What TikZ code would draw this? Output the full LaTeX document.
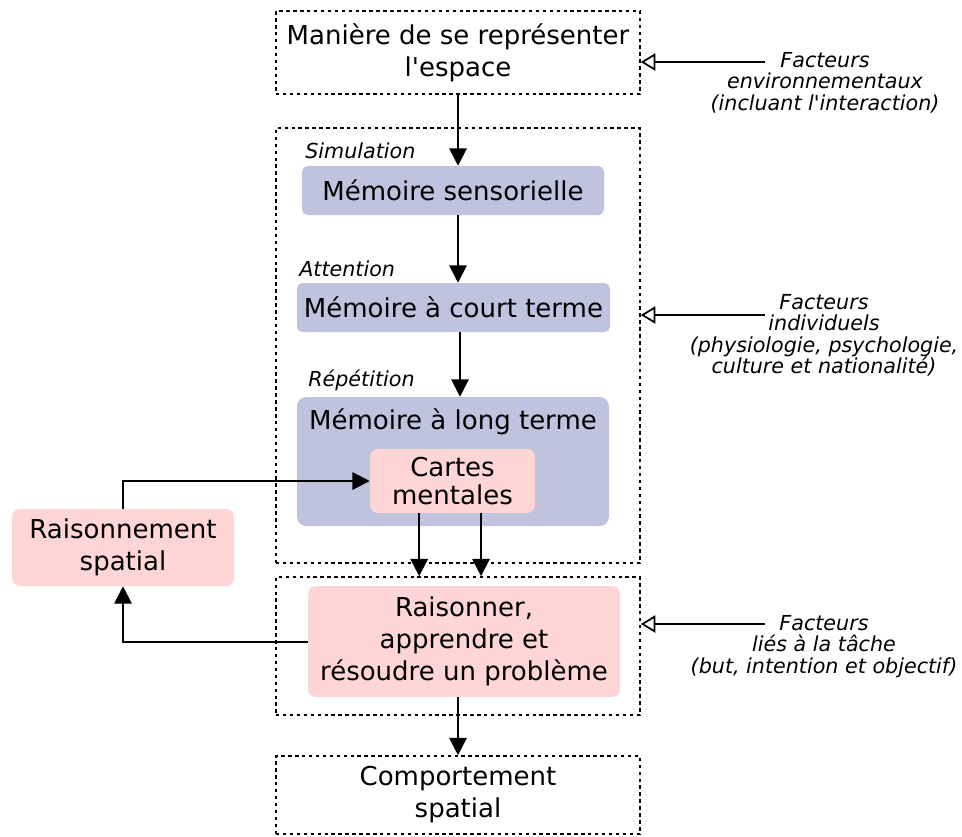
\documentclass[tikz,border=0pt]{standalone}
\usepackage{fontspec}
\setmainfont{DejaVu Sans}
\usepackage{xcolor}
\usepackage{tikz}
\usetikzlibrary{arrows.meta,positioning}

\definecolor{memblue}{RGB}{192,195,222}
\definecolor{rosebox}{RGB}{255,213,213}

\begin{document}
\begin{tikzpicture}[
  x=0.75pt, y=-0.75pt,
  every node/.style={font=\fontsize{19.5}{24}\selectfont, align=center, inner sep=0pt},
  small/.style={font=\fontsize{15.5}{16}\selectfont\itshape},
  zone/.style={draw, line width=1.2pt, dash pattern=on 2.6pt off 2.6pt, minimum width=273pt},
  mem/.style={fill=memblue, rounded corners=4pt},
  pinkbox/.style={fill=rosebox, rounded corners=6pt},
  arr/.style={-{Triangle[length=13pt,width=13pt]}, line width=1.5pt},
  infl/.style={-{Triangle[open,length=11pt,width=13pt]}, line width=1.3pt},
]
  \useasboundingbox (0,0) rectangle (962,836);

  % ---------- dashed zones ----------
  \node[zone, minimum height=62.25pt]  (espace) at (458, 52.5)
    {Manière de se représenter\\l\textquotesingle espace};
  \node[zone, minimum height=326.25pt] (memoire) at (458, 345.5) {};
  \node[zone, minimum height=103.5pt]  (tache)   at (458, 646) {};
  \node[zone, minimum height=58.5pt]   (comport) at (458, 795)
    {Comportement\\spatial};

  % ---------- memory stages ----------
  \node[mem, minimum width=226.5pt, minimum height=36.75pt] (sens)  at (453, 190.5) {Mémoire sensorielle};
  \node[mem, minimum width=234.75pt, minimum height=36.75pt] (court) at (453.5, 307.5) {Mémoire à court terme};
  \node[mem, rounded corners=7pt, minimum width=234pt, minimum height=96.75pt] (long) at (453, 461.5) {};
  \node[below=9pt of long.north] (longlbl) {Mémoire à long terme};
  \node[pinkbox, minimum width=123.75pt, minimum height=48pt] (cartes) at (452.5, 481) {Cartes\\[-3pt]mentales};

  \node[small, anchor=west] (simul)  at (305, 151) {Simulation};
  \node[small, anchor=west] (attent) at (299, 269) {Attention};
  \node[small, anchor=west] (repet)  at (308, 380) {Répétition};

  % ---------- reasoning ----------
  \node[pinkbox, minimum width=234pt, minimum height=83.25pt] (raison) at (464, 641.5)
    {Raisonner,\\apprendre et\\résoudre un problème};
  \node[pinkbox, minimum width=166.5pt, minimum height=57.75pt] (spatial) at (123, 547.5)
    {Raisonnement\\spatial};

  % ---------- factors ----------
  \node[small, anchor=north] (envF) at (825, 52)  {Facteurs\\environnementaux\\(incluant l\textquotesingle interaction)};
  \node[small, anchor=north] (indF) at (824, 294) {Facteurs\\individuels\\(physiologie, psychologie,\\culture et nationalité)};
  \node[small, anchor=north] (tacF) at (824, 615) {Facteurs\\liés à la tâche\\(but, intention et objectif)};
  \coordinate (envT) at (765, 62);
  \coordinate (indT) at (765, 315);
  \coordinate (tacT) at (765, 624);

  % main flow
  \draw[arr] (espace.south) -- (espace.south |- sens.north);
  \draw[arr] (sens.south -| espace.south) -- (court.north -| espace.south);
  \draw[arr] ([xshift=1.5pt]court.south -| espace.south) -- ([xshift=1.5pt]long.north -| espace.south);
  \draw[arr] ([xshift=-25pt]cartes.south) -- ([xshift=-25pt]cartes.south |- tache.north);
  \draw[arr] ([xshift=21.4pt]cartes.south) -- ([xshift=21.4pt]cartes.south |- tache.north);
  \draw[arr] (comport.north |- raison.south) -- (comport.north);

  % feedback loop
  \draw[arr] (raison.west) -| (spatial.south);
  \draw[arr] (spatial.north) |- (cartes.west);

  % influences
  \draw[infl] (envT) -- (espace.east |- envT);
  \draw[infl] (indT) -- (memoire.east |- indT);
  \draw[infl] (tacT) -- (tache.east |- tacT);
\end{tikzpicture}
\end{document}
